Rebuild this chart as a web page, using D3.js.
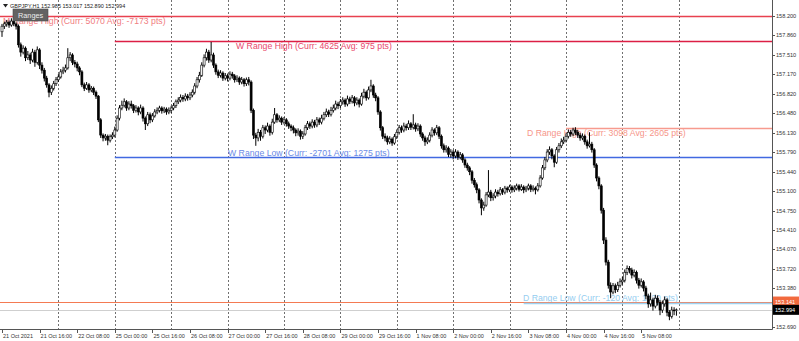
<!DOCTYPE html>
<html>
<head>
<meta charset="utf-8">
<script src="https://cdn.jsdelivr.net/npm/d3@7"></script>
<style>
  html, body { margin: 0; padding: 0; background: #fff; }
  svg { display: block; font-family: "Liberation Sans", Arial, sans-serif; }
</style>
</head>
<body>
<svg id="chart" width="799" height="341"></svg>
<script>
// GBPJPY H1 with range levels
const symbol = 'GBPJPY,H1';
const lastQuote = [152.985, 153.017, 152.890, 152.994];
const markedPrice = 153.141;
const firstOpen = 157.92;

// one line per trading day, 24 hourly bars each
const closes = [
  158.02,158.06,158.09,158.04,158.11,158.06,158.02,157.69,157.56,157.63,157.46,157.51,157.42,157.56,157.38,157.60,157.33,157.24,157.10,156.98,156.85,156.92,157.00,157.07,
  157.12,157.21,157.24,157.28,157.46,157.51,157.38,157.35,157.28,157.21,156.98,156.92,156.98,156.89,156.92,156.85,156.78,156.36,156.09,156.04,156.07,156.00,156.06,156.09,
  156.18,156.39,156.57,156.62,156.68,156.57,156.64,156.61,156.53,156.57,156.50,156.57,156.39,156.29,156.45,156.36,156.43,156.50,156.53,156.57,156.52,156.55,156.50,156.53,
  156.57,156.61,156.68,156.71,156.76,156.73,156.78,156.75,156.80,156.85,156.96,157.07,157.15,157.33,157.46,157.56,157.42,157.51,157.33,157.21,157.15,157.19,157.10,157.14,
  157.10,157.17,157.14,157.07,157.10,157.03,157.07,157.00,157.07,157.03,156.53,156.09,156.04,156.14,156.07,156.22,156.18,156.25,156.14,156.32,156.45,156.36,156.39,156.32,
  156.36,156.29,156.25,156.22,156.18,156.13,156.16,156.07,156.11,156.22,156.29,156.25,156.32,156.27,156.36,156.32,156.39,156.45,156.50,156.46,156.53,156.57,156.64,156.61,
  156.68,156.71,156.64,156.73,156.69,156.75,156.66,156.71,156.64,156.78,156.85,156.75,156.89,156.96,156.80,156.75,156.50,156.22,156.07,156.04,155.97,156.02,155.95,156.06,
  156.14,156.22,156.18,156.25,156.22,156.29,156.23,156.27,156.20,156.25,156.11,156.04,155.97,156.00,156.09,156.18,156.13,156.22,156.07,155.90,155.83,155.86,155.75,155.79,
  155.72,155.79,155.70,155.74,155.65,155.56,155.51,155.44,155.29,155.21,155.12,154.94,154.80,154.85,155.03,155.08,154.98,155.01,155.08,155.05,155.12,155.08,155.15,155.12,
  155.17,155.12,155.15,155.19,155.13,155.17,155.12,155.15,155.19,155.13,155.15,155.12,155.19,155.33,155.51,155.65,155.79,155.83,155.72,155.61,155.83,155.90,155.97,156.00,
  156.07,156.14,156.11,156.18,156.14,156.09,156.04,156.07,155.97,155.90,155.93,155.83,155.56,155.33,155.19,154.76,154.23,153.84,153.43,153.31,153.42,153.35,153.43,153.49,
  153.52,153.66,153.73,153.70,153.61,153.66,153.52,153.43,153.49,153.38,153.24,153.10,153.17,153.06,153.20,153.13,152.99,153.10,153.17,152.95,152.88,152.99,152.985,152.994
];
const highs = [
  158.06,158.10,158.13,158.12,158.16,158.14,158.09,158.05,157.73,157.68,157.66,157.58,157.55,157.62,157.60,157.66,157.63,157.38,157.28,157.14,157.01,156.97,157.05,157.12,
  157.17,157.26,157.30,157.34,157.63,157.56,157.54,157.42,157.39,157.31,157.24,157.02,157.03,157.01,156.96,156.95,156.88,156.80,156.39,156.12,156.11,156.10,156.10,156.14,
  156.24,156.44,156.62,156.70,156.74,156.71,156.69,156.70,156.64,156.62,156.60,156.63,156.60,156.42,156.50,156.49,156.48,156.55,156.58,156.61,156.60,156.59,156.58,156.58,
  156.61,156.66,156.72,156.76,156.81,156.80,156.83,156.82,156.85,156.90,157.01,157.12,157.21,157.38,157.52,157.62,157.60,157.74,157.55,157.36,157.25,157.24,157.22,157.19,
  157.18,157.22,157.21,157.17,157.15,157.13,157.12,157.10,157.11,157.12,157.06,156.56,156.13,156.20,156.18,156.27,156.26,156.31,156.28,156.38,156.57,156.48,156.44,156.42,
  156.41,156.39,156.33,156.28,156.26,156.21,156.21,156.19,156.16,156.27,156.34,156.33,156.37,156.36,156.41,156.40,156.45,156.50,156.56,156.54,156.59,156.63,156.70,156.68,
  156.73,156.76,156.74,156.79,156.77,156.80,156.78,156.76,156.74,156.84,156.91,156.88,156.95,157.07,156.99,156.84,156.78,156.53,156.25,156.12,156.08,156.07,156.05,156.11,
  156.19,156.27,156.26,156.31,156.29,156.35,156.32,156.46,156.31,156.30,156.28,156.14,156.08,156.05,156.14,156.23,156.21,156.27,156.25,156.10,155.94,155.91,155.89,155.84,
  155.83,155.84,155.82,155.79,155.77,155.68,155.60,155.54,155.47,155.33,155.25,155.15,154.97,154.91,155.08,155.47,155.12,155.06,155.13,155.12,155.17,155.15,155.19,155.18,
  155.21,155.20,155.20,155.23,155.22,155.22,155.20,155.19,155.23,155.22,155.20,155.18,155.24,155.38,155.56,155.70,155.84,155.89,155.86,155.75,155.88,155.95,156.03,156.06,
  156.12,156.19,156.18,156.22,156.23,156.18,156.13,156.12,156.10,156.01,156.14,155.97,155.86,155.59,155.36,155.22,154.80,154.28,153.88,153.48,153.47,153.46,153.49,153.55,
  153.58,153.71,153.78,153.77,153.74,153.71,153.69,153.56,153.55,153.52,153.42,153.28,153.30,153.21,153.26,153.25,153.17,153.16,153.23,153.20,152.99,153.05,153.04,153.017
];
const lows = [
  157.83,157.97,158.01,157.99,158.01,158.02,157.96,157.64,157.48,157.52,157.40,157.42,157.35,157.38,157.30,157.34,157.26,157.18,157.04,156.93,156.76,156.80,156.88,156.96,
  157.03,157.09,157.17,157.20,157.25,157.40,157.33,157.29,157.22,157.15,156.94,156.87,156.89,156.84,156.85,156.80,156.73,156.32,156.04,155.98,155.99,155.91,155.96,156.02,
  156.05,156.15,156.35,156.53,156.58,156.52,156.53,156.56,156.48,156.49,156.44,156.46,156.33,156.18,156.25,156.30,156.32,156.40,156.46,156.49,156.47,156.48,156.45,156.46,
  156.48,156.53,156.57,156.64,156.67,156.68,156.69,156.70,156.71,156.76,156.81,156.92,157.02,157.12,157.29,157.41,157.37,157.38,157.28,157.16,157.10,157.11,157.05,157.06,
  157.04,157.06,157.09,157.02,157.03,156.98,156.99,156.95,156.96,156.97,156.48,156.02,155.90,155.98,155.99,156.03,156.11,156.14,156.08,156.10,156.29,156.31,156.32,156.27,
  156.28,156.24,156.20,156.16,156.12,156.07,156.08,156.01,156.02,156.08,156.18,156.20,156.21,156.22,156.23,156.27,156.28,156.35,156.41,156.41,156.42,156.49,156.53,156.55,
  156.57,156.63,156.59,156.60,156.64,156.65,156.60,156.62,156.58,156.61,156.74,156.70,156.72,156.85,156.75,156.69,156.45,156.17,156.02,155.98,155.92,155.93,155.90,155.92,
  156.02,156.10,156.13,156.14,156.17,156.18,156.18,156.19,156.15,156.16,156.06,155.99,155.90,155.93,155.96,156.05,156.08,156.09,156.02,155.85,155.78,155.78,155.70,155.69,
  155.66,155.68,155.65,155.66,155.60,155.51,155.46,155.38,155.23,155.16,155.06,154.88,154.67,154.75,154.82,154.99,154.92,154.93,154.97,155.00,155.02,155.03,155.04,155.07,
  155.08,155.07,155.08,155.11,155.09,155.10,155.06,155.08,155.11,155.08,155.09,155.04,155.09,155.16,155.30,155.47,155.61,155.74,155.66,155.52,155.58,155.78,155.86,155.93,
  155.96,156.03,156.06,156.07,156.09,156.04,155.99,156.00,155.92,155.85,155.87,155.78,155.51,155.27,155.13,154.70,154.16,153.78,153.37,153.20,153.27,153.29,153.31,153.39,
  153.44,153.48,153.61,153.64,153.55,153.57,153.46,153.37,153.39,153.32,153.18,153.03,153.05,152.98,153.02,153.07,152.90,152.94,153.05,152.88,152.81,152.84,152.90,152.890
];

const timeLabels = ['21 Oct 2021','21 Oct 16:00','22 Oct 08:00','25 Oct 00:00','25 Oct 16:00','26 Oct 08:00',
  '27 Oct 00:00','27 Oct 16:00','28 Oct 08:00','29 Oct 00:00','29 Oct 16:00','1 Nov 08:00',
  '2 Nov 00:00','2 Nov 16:00','3 Nov 08:00','4 Nov 00:00','4 Nov 16:00','5 Nov 08:00'];
const timeLabelBars = [0,16,32,48,64,80,96,112,128,144,160,176,192,208,224,240,256,272];
const dayStartBars = [24,48,72,96,120,144,168,192,216,240,264,288];
const priceTicks = [158.200,157.860,157.510,157.170,156.820,156.480,156.130,155.790,155.440,
  155.100,154.750,154.410,154.070,153.720,153.380,152.690];

const rangeNames = ['M Range High','W Range High','W Range Low','D Range High','D Range Low'];
const rangePrices = [158.20, 157.76, 155.70, 156.22, 153.12];
const rangeCurr = [5070, 4625, -2701, 3098, -120];
const rangeAvg = [-7173, 975, 1275, 2605, 1420];
const rangeFromBar = [0, 48, 48, 240, 222];

// styling / layout
const rangeStyle = [
  { line: '#e8414f', text: '#f07c80', lx: 3 },
  { line: '#dc1f44', text: '#e8476c', lx: 236 },
  { line: '#4169e1', text: '#6a8ae6', lx: 228 },
  { line: '#f79a8e', text: '#f6968a', lx: 527 },
  { line: '#9dd3f2', text: '#95cdf0', lx: 523 }
];

const svg = d3.select('#chart');
const plotR = 772, plotB = 329;
const nBars = closes.length;
const x = d3.scaleLinear().domain([0, nBars]).range([2, 2 + nBars * 2.35]);
const y = d3.scaleLinear().domain([152.690, 158.200]).range([327, 16]);

const bars = closes.map((c, i) => ({
  i, c, h: highs[i], l: lows[i], o: i ? closes[i - 1] : firstOpen
}));

svg.append('rect').attr('width', 799).attr('height', 341).attr('fill', '#fff');
svg.append('defs').append('clipPath').attr('id', 'plotclip')
  .append('rect').attr('x', 0).attr('y', 0).attr('width', plotR).attr('height', plotB);

const g = svg.append('g').attr('clip-path', 'url(#plotclip)');

// day separators
g.append('g').selectAll('line').data(dayStartBars).enter().append('line')
  .attr('x1', d => Math.round(x(d)) + 0.5).attr('x2', d => Math.round(x(d)) + 0.5)
  .attr('y1', 0).attr('y2', plotB)
  .attr('stroke', '#707070').attr('stroke-width', 1).attr('stroke-dasharray', '2,2');

// range levels
const ranges = rangeNames.map((name, k) => ({
  name, price: rangePrices[k], curr: rangeCurr[k], avg: rangeAvg[k], from: rangeFromBar[k], st: rangeStyle[k]
}));
const isLow = r => r.name.endsWith('Low');

g.append('g').selectAll('text').data(ranges).enter().append('text')
  .attr('x', r => r.st.lx)
  .attr('y', r => isLow(r) ? y(r.price) - 1.5 : y(r.price) + 7.8)
  .attr('font-size', 8.7).attr('fill', r => r.st.text)
  .text(r => `${r.name} (Curr: ${r.curr} Avg: ${r.avg} pts)`);

// bid + marked price lines
g.append('line').attr('x1', 0).attr('x2', plotR)
  .attr('y1', Math.round(y(markedPrice)) + 0.5).attr('y2', Math.round(y(markedPrice)) + 0.5)
  .style('stroke', '#f47a52').attr('stroke-width', 1);
g.append('line').attr('x1', 0).attr('x2', plotR)
  .attr('y1', Math.round(y(lastQuote[3])) + 0.5).attr('y2', Math.round(y(lastQuote[3])) + 0.5)
  .style('stroke', '#cfcfcf').attr('stroke-width', 1);

const rl = g.append('g').attr('class', 'range-lines');
ranges.forEach(r => {
  const yy = Math.round(y(r.price)) + 0.5;
  rl.append('line')
    .attr('x1', r.from ? x(r.from) : 0).attr('x2', plotR)
    .attr('y1', yy).attr('y2', yy)
    .style('stroke', r.st.line).style('stroke-width', '1.3px');
});

// candles
const cg = g.append('g');
cg.selectAll('line.wick').data(bars).enter().append('line')
  .attr('class', 'wick')
  .attr('x1', d => x(d.i)).attr('x2', d => x(d.i))
  .attr('y1', d => y(d.h)).attr('y2', d => y(d.l))
  .attr('stroke', '#000').attr('stroke-width', 1);
cg.selectAll('rect.body').data(bars).enter().append('rect')
  .attr('class', 'body')
  .attr('x', d => x(d.i) - 1).attr('width', 2)
  .attr('y', d => y(Math.max(d.o, d.c)))
  .attr('height', d => Math.max(0.8, Math.abs(y(d.o) - y(d.c))))
  .attr('fill', d => d.c >= d.o ? '#fff' : '#000')
  .attr('stroke', '#000').attr('stroke-width', 0.6);

// frame
svg.append('line').attr('x1', plotR + 0.5).attr('x2', plotR + 0.5).attr('y1', 0).attr('y2', plotB + 0.5)
  .attr('stroke', '#555');
svg.append('line').attr('x1', 0).attr('x2', plotR + 0.5).attr('y1', plotB + 0.5).attr('y2', plotB + 0.5)
  .attr('stroke', '#555');

// price axis
const pa = svg.append('g');
pa.selectAll('line').data(priceTicks).enter().append('line')
  .attr('x1', plotR).attr('x2', plotR + 3)
  .attr('y1', d => Math.round(y(d)) + 0.5).attr('y2', d => Math.round(y(d)) + 0.5)
  .attr('stroke', '#555');
pa.selectAll('text').data(priceTicks).enter().append('text')
  .attr('x', plotR + 4).attr('y', d => y(d)).attr('dy', '0.35em')
  .attr('font-size', 5.6).attr('fill', '#333')
  .text(d => d.toFixed(3));

const priceTag = (p, bg) => {
  const t = svg.append('g').attr('transform', `translate(${plotR + 1},${y(p)})`);
  t.append('rect').attr('x', 0).attr('y', -5).attr('width', 26).attr('height', 10).attr('fill', bg);
  t.append('text').attr('x', 2).attr('dy', '0.35em').attr('font-size', 5.6).attr('fill', '#fff')
    .text(p.toFixed(3));
};
priceTag(markedPrice, '#f26a3e');
priceTag(lastQuote[3], '#000');

// time axis
const ta = svg.append('g');
ta.selectAll('line').data(timeLabelBars).enter().append('line')
  .attr('x1', d => Math.round(x(d)) + 0.5).attr('x2', d => Math.round(x(d)) + 0.5)
  .attr('y1', plotB).attr('y2', plotB + 4).attr('stroke', '#555');
ta.selectAll('text').data(timeLabels).enter().append('text')
  .attr('x', (d, k) => x(timeLabelBars[k]) + 1).attr('y', 337.5)
  .attr('font-size', 5.5).attr('fill', '#333')
  .text(d => d);

// header
svg.append('path').attr('d', 'M3,4 L8,4 L5.5,7.5 Z').attr('fill', '#222');
svg.append('text').attr('x', 10).attr('y', 8).attr('font-size', 5.5).attr('fill', '#222')
  .text(`${symbol} ${lastQuote.map(v => v.toFixed(3)).join(' ')}`);

const badge = svg.append('g').attr('transform', 'translate(13,9)');
badge.append('rect').attr('width', 35).attr('height', 12).attr('fill', '#636363').attr('stroke', '#4a4a4a').attr('stroke-width', 0.6);
badge.append('text').attr('x', 5).attr('y', 9).attr('font-size', 7.3).attr('fill', '#eee').text('Ranges');
</script>
</body>
</html>
